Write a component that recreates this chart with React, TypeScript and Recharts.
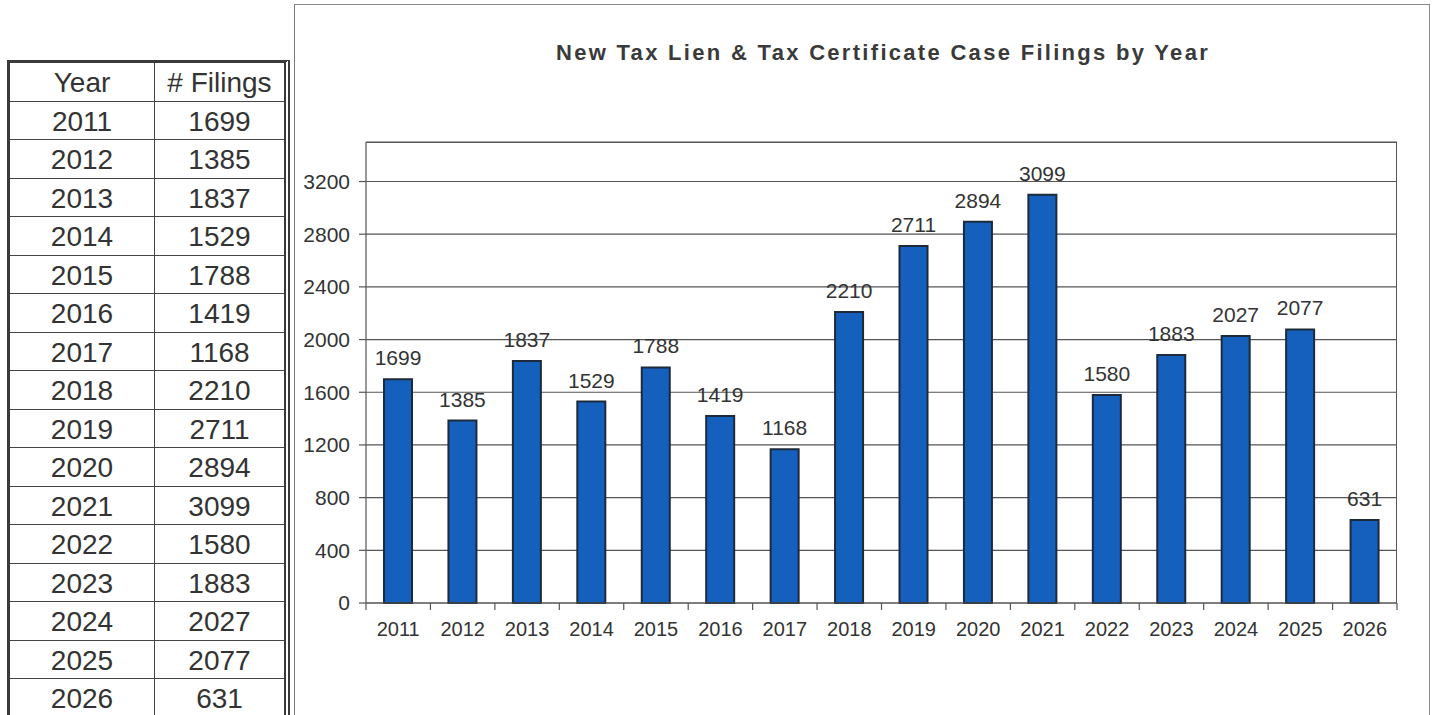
import React from 'react';
import { BarChart, Bar, XAxis, YAxis, CartesianGrid, LabelList } from 'recharts';

const years = ['2011', '2012', '2013', '2014', '2015', '2016', '2017', '2018', '2019', '2020', '2021', '2022', '2023', '2024', '2025', '2026'];
const filings = [1699, 1385, 1837, 1529, 1788, 1419, 1168, 2210, 2711, 2894, 3099, 1580, 1883, 2027, 2077, 631];
const yTicks = [0, 400, 800, 1200, 1600, 2000, 2400, 2800, 3200];
const chartTitle = 'New Tax Lien & Tax Certificate Case Filings by Year';
const tableHeaders = ['Year', '# Filings'];

const data = years.map((year, i) => ({ year, filings: filings[i] }));

const FONT = '"Liberation Sans", Arial, "DejaVu Sans", sans-serif';
const TEXT = '#333333';
const AXIS = '#555555';
const ROW_H = 38.5;
const X_LABEL_GAP = 19;
const X_TICK_LEN = 7;

function CategoryTick(props: any) {
  const { x, y, payload } = props;
  const half = payload && typeof payload.offset === 'number' ? payload.offset : 0;
  const axisY = y - X_LABEL_GAP;
  const isLast = payload && payload.value === years[years.length - 1];
  return (
    <g>
      <line x1={x - half} x2={x - half} y1={axisY} y2={axisY + X_TICK_LEN} stroke={AXIS} strokeWidth={1.2} />
      {isLast ? (
        <line x1={x + half} x2={x + half} y1={axisY} y2={axisY + X_TICK_LEN} stroke={AXIS} strokeWidth={1.2} />
      ) : null}
      <text x={x} y={y} dy="0.71em" textAnchor="middle" fontSize={20} fill={TEXT}>
        {payload ? payload.value : ''}
      </text>
    </g>
  );
}

function Table() {
  const rows = [tableHeaders, ...years.map((y, i) => [y, String(filings[i])])];
  return (
    <div
      style={{
        position: 'absolute',
        left: 7,
        top: 60,
        width: 283,
        height: 680,
        boxSizing: 'border-box',
        borderTop: '3px solid #3a3a3a',
        borderLeft: '3px solid #3a3a3a',
        borderRight: '6px double #3a3a3a',
        background: '#fff',
      }}
    >
      {rows.map((r, i) => (
        <div
          key={i}
          style={{
            display: 'flex',
            height: ROW_H,
            boxSizing: 'border-box',
            borderBottom: '1.5px solid #444',
            fontSize: 28,
            color: TEXT,
            lineHeight: `${ROW_H}px`,
          }}
        >
          <div style={{ width: 145, boxSizing: 'border-box', borderRight: '1.5px solid #444', textAlign: 'center', paddingTop: 1 }}>
            {r[0]}
          </div>
          <div style={{ flex: 1, textAlign: 'center', paddingTop: 1 }}>{r[1]}</div>
        </div>
      ))}
    </div>
  );
}

export default function App() {
  return (
    <div
      style={{
        position: 'fixed',
        left: 0,
        top: 0,
        width: 1434,
        height: 715,
        overflow: 'hidden',
        background: '#ffffff',
        fontFamily: FONT,
        color: TEXT,
      }}
    >
      <Table />
      {/* chart frame */}
      <div
        style={{
          position: 'absolute',
          left: 294,
          top: 4,
          width: 1136,
          height: 720,
          boxSizing: 'border-box',
          borderLeft: '1.5px solid #7a7a7a',
          borderTop: '1.5px solid #8a8a8a',
          borderRight: '1.5px solid #8a8a8a',
        }}
      />
      <div
        style={{
          position: 'absolute',
          left: 553,
          top: 39,
          width: 660,
          textAlign: 'center',
          whiteSpace: 'nowrap',
          fontSize: 22,
          fontWeight: 'bold',
          letterSpacing: 2.3,
          lineHeight: '28px',
          color: '#3a3a3a',
        }}
      >
        {chartTitle}
      </div>
      <div style={{ position: 'absolute', left: 294, top: 4 }}>
        <BarChart
          width={1136}
          height={711}
          data={data}
          margin={{ top: 138, right: 33, bottom: 0, left: 0 }}
          style={{ fontFamily: FONT }}
        >
          <CartesianGrid vertical={false} stroke={AXIS} strokeWidth={1.2} />
          <YAxis
            type="number"
            domain={[0, 3500]}
            ticks={yTicks}
            interval={0}
            width={72}
            tickSize={7}
            tickMargin={9}
            axisLine={{ stroke: AXIS, strokeWidth: 1.2 }}
            tickLine={{ stroke: AXIS, strokeWidth: 1.2 }}
            tick={{ fontSize: 21, fill: TEXT }}
          />
          <XAxis
            dataKey="year"
            interval={0}
            height={112}
            tickSize={0}
            tickMargin={X_LABEL_GAP}
            tickLine={false}
            axisLine={{ stroke: AXIS, strokeWidth: 1.2 }}
            tick={<CategoryTick />}
          />
          <Bar
            dataKey="filings"
            barSize={28}
            fill="#1560bd"
            stroke="#1d2a3b"
            strokeWidth={2}
            isAnimationActive={false}
          >
            <LabelList dataKey="filings" position="top" offset={14} fill={TEXT} fontSize={21} />
          </Bar>
        </BarChart>
      </div>
      {/* plot area frame (top and right edges) */}
      <div
        style={{
          position: 'absolute',
          left: 366,
          top: 142,
          width: 1031,
          height: 461,
          boxSizing: 'border-box',
          borderTop: '1.2px solid #555',
          borderRight: '1.2px solid #555',
          pointerEvents: 'none',
        }}
      />
    </div>
  );
}
